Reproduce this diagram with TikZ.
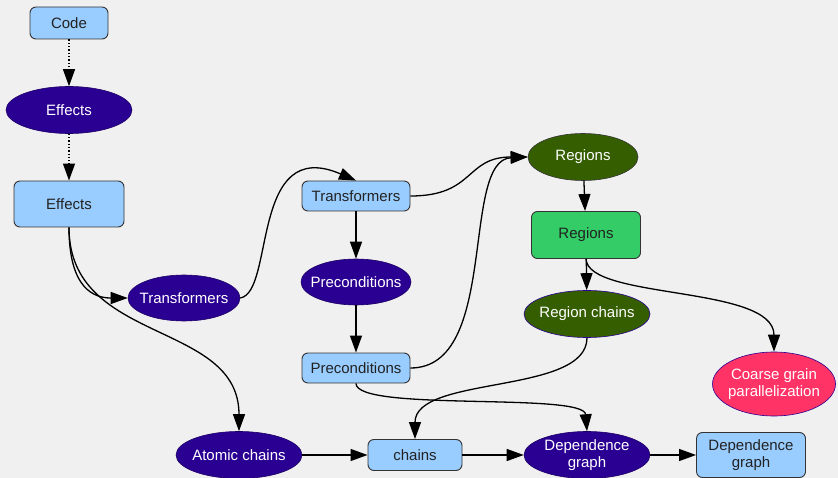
\documentclass[tikz,border=0pt]{standalone}
\usepackage{fontspec}
\setmainfont{Liberation Sans}
\usetikzlibrary{shapes.geometric,arrows.meta}
\definecolor{bg}{HTML}{F0F0F0}
\definecolor{lblue}{HTML}{99CCFF}
\definecolor{indigo}{HTML}{2A0092}
\definecolor{dgreen}{HTML}{355E00}
\definecolor{lgreen}{HTML}{33CC66}
\definecolor{pink}{HTML}{FF3366}
\definecolor{txt}{HTML}{222222}
\tikzset{
  rbox/.style={draw=black!80, line width=0.9pt, rounded corners=6pt, fill=lblue, text=txt, inner sep=0pt, align=center, font=\fontsize{15}{17}\selectfont},
  ell/.style={ellipse, draw=indigo!70!black, line width=0.6pt, fill=indigo, text=white, inner xsep=-12pt, inner ysep=-6pt, align=center, font=\fontsize{15}{17}\selectfont},
  conn/.style={line width=1.3pt, -{Triangle[length=17pt,width=12pt]}},
  dconn/.style={conn, dotted},
}
\begin{document}
\begin{tikzpicture}[x=1pt,y=-1pt]
\fill[bg] (0,0) rectangle (838,478);
\useasboundingbox (0,0) rectangle (838,478);
% nodes
\node[rbox, minimum width=78pt, minimum height=32pt] (code) at (69,23) {Code};
\node[ell, minimum width=126pt, minimum height=47pt] (effE) at (69,110) {Effects};
\node[rbox, minimum width=110pt, minimum height=46pt] (effR) at (69,204) {Effects};
\node[ell, minimum width=112pt, minimum height=46pt] (trE) at (184,298) {Transformers};
\node[rbox, minimum width=108pt, minimum height=30pt] (trR) at (356,196) {Transformers};
\node[ell, minimum width=110pt, minimum height=46pt] (prE) at (356,282) {Preconditions};
\node[rbox, minimum width=108pt, minimum height=30pt] (prR) at (356,368) {Preconditions};
\node[ell, fill=dgreen, draw=black!80, minimum width=110pt, minimum height=47pt] (rgE) at (583,157) {Regions};
\node[rbox, fill=lgreen, minimum width=109pt, minimum height=47pt] (rgR) at (586,235) {Regions};
\node[ell, fill=dgreen, draw=indigo, minimum width=126pt, minimum height=47pt] (rcE) at (587,314) {Region chains};
\node[ell, fill=pink, draw=indigo, minimum width=123pt, minimum height=64pt] (cg) at (774,384) {Coarse grain\\parallelization};
\node[ell, minimum width=126pt, minimum height=47pt] (atE) at (239,455) {Atomic chains};
\node[rbox, minimum width=94pt, minimum height=31pt] (chR) at (415,455) {chains};
\node[ell, minimum width=126pt, minimum height=47pt] (dgE) at (587,455) {Dependence\\graph};
\node[rbox, minimum width=109pt, minimum height=45pt] (dgR) at (751,455) {Dependence\\graph};
% connectors
\draw[dconn] (code) -- (effE);
\draw[dconn] (effE) -- (effR);
\draw[conn] (effR.south) .. controls (69,290) and (95,298) .. (trE.west);
\draw[conn] (effR.south) .. controls (69,345) and (239,320) .. (atE.north);
\draw[conn] (trE.east) .. controls (275,292) and (250,135) .. (trR.north);
\draw[conn] (trR) -- (prE);
\draw[conn] (prE) -- (prR);
\draw[conn] (trR.east) .. controls (475,196) and (465,157) .. (rgE.west);
\draw[conn] (prR.east) .. controls (500,368) and (460,160) .. (rgE.west);
\draw[conn] (prR.south) .. controls (356,412) and (584,392) .. (dgE.north);
\draw[conn] (rgE) -- (rgR);
\draw[conn] (rgR) -- (rcE);
\draw[conn] (rgR.south) .. controls (588,300) and (774,285) .. (cg.north);
\draw[conn] (rcE.south) .. controls (587,395) and (415,375) .. (chR.north);
\draw[conn] (atE) -- (chR);
\draw[conn] (chR) -- (dgE);
\draw[conn] (dgE) -- (dgR);
\end{tikzpicture}
\end{document}
